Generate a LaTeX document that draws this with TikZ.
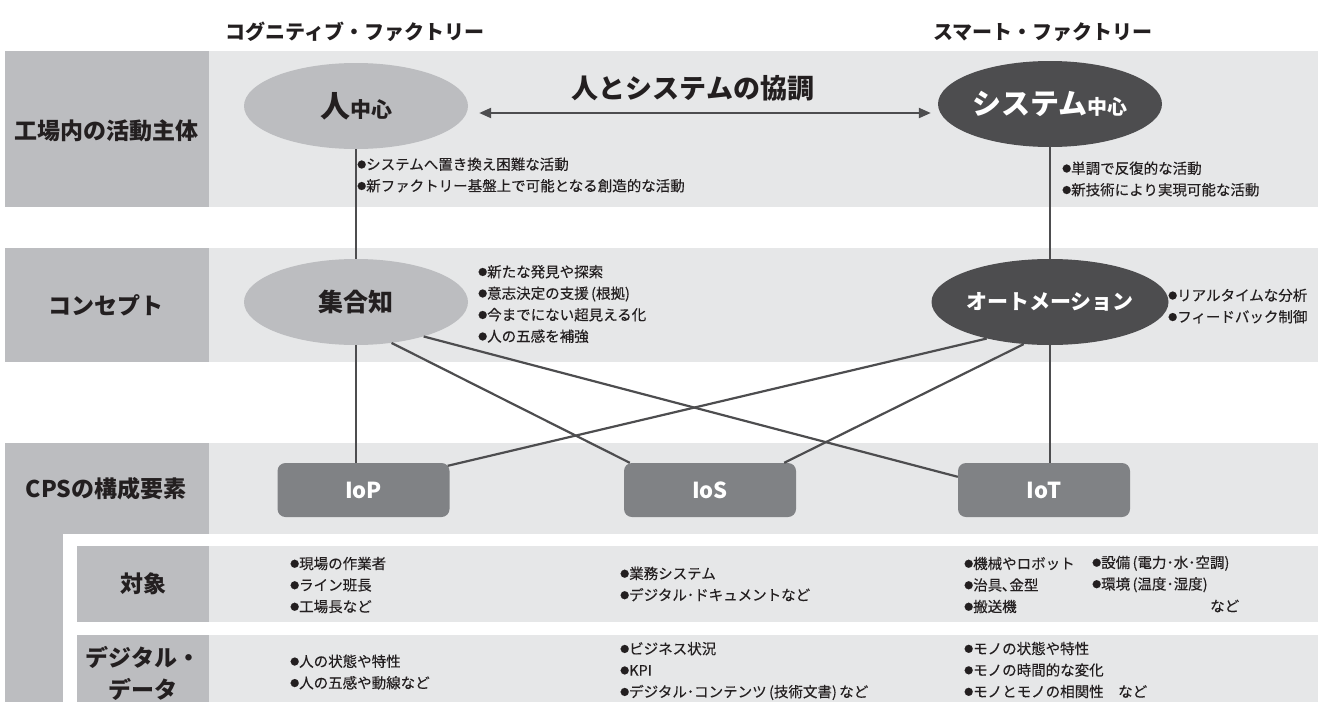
\documentclass[tikz,border=0pt]{standalone}
\usepackage{fontspec}
\setmainfont{Noto Sans CJK JP}
\newfontfamily\bltfont{Noto Sans CJK JP}[FakeBold=0.25]
\usetikzlibrary{arrows.meta,shapes.geometric,calc}
\definecolor{lab}{HTML}{BCBDC0}
\definecolor{bandc}{HTML}{E6E7E8}
\definecolor{dk}{HTML}{4D4D4F}
\definecolor{boxc}{HTML}{808285}
\definecolor{txt}{HTML}{231F20}
\newcommand{\mybul}{\raisebox{1.8pt}{\fontsize{9}{9}\selectfont ●}}
\tikzset{
  hdr/.style={font=\bfseries\fontsize{20}{22}\selectfont, text=txt, inner sep=0},
  lbl/.style={font=\bfseries\fontsize{23}{32}\selectfont, text=txt, align=center, inner sep=0},
  ell/.style={ellipse, minimum width=224pt, minimum height=86pt, inner sep=0},
  ellL/.style={ell, fill=lab, text=txt},
  ellD/.style={ell, fill=dk, text=white},
  cps/.style={rectangle, rounded corners=8pt, fill=boxc, text=white, minimum width=172pt, minimum height=54pt, font=\bfseries\fontsize{22}{22}\selectfont},
  blt/.style={anchor=west, font=\bltfont\fontsize{14.5}{21.5}\selectfont, text=txt, align=left, inner sep=0},
  conn/.style={draw=dk, line width=2.2pt},
}
\begin{document}
\begin{tikzpicture}[x=1pt,y=-1pt]
\useasboundingbox (0,0) rectangle (1318,702);
% bands
\fill[bandc] (5,51) rectangle (1318,207);
\fill[lab] (5,51) rectangle (209,207);
\fill[bandc] (5,248) rectangle (1318,362);
\fill[lab] (5,248) rectangle (209,362);
\fill[bandc] (5,443) rectangle (1318,534);
\fill[lab] (5,443) rectangle (209,534);
\fill[lab] (5,534) rectangle (63,702);
\fill[bandc] (77,546) rectangle (1318,622);
\fill[lab] (77,546) rectangle (209,622);
\fill[bandc] (77,635) rectangle (1318,702);
\fill[lab] (77,635) rectangle (209,702);
% headers
\node[hdr] (hL) at (355,32) {コグニティブ・ファクトリー};
\node[hdr] (hR) at (1043,32) {スマート・ファクトリー};
% labels
\node[lbl] (l1) at (107,131) {工場内の活動主体};
\node[lbl] (l2) at (106,305) {コンセプト};
\node[lbl] (l3) at (106,489) {CPSの構成要素};
\node[lbl] (l4) at (143,584) {対象};
\node[lbl] (l5) at (143,673) {デジタル・\\データ};
% ellipses
\node[ellL] (hito) at (356,106) {{\bfseries\fontsize{30}{30}\selectfont 人}{\bfseries\fontsize{21}{21}\selectfont 中心}};
\node[ellD] (sys) at (1050,104) {{\bfseries\fontsize{29}{30}\selectfont システム}{\bfseries\fontsize{20}{21}\selectfont 中心}};
\node[ellL] (shugo) at (356,302) {\bfseries\fontsize{25}{25}\selectfont 集合知};
\node[ellD] (auto) at (1050,302) {\bfseries\fontsize{21}{21}\selectfont オートメーション};
% cps boxes
\node[cps] (iop) at (363.5,490) {IoP};
\node[cps] (ios) at (710,490) {IoS};
\node[cps] (iot) at (1044,490) {IoT};
% arrow
\node[font=\bfseries\fontsize{27}{27}\selectfont, text=txt] (coop) at (693,88) {人とシステムの協調};
\draw[conn, {Triangle[length=12pt,width=10pt]}-{Triangle[length=12pt,width=10pt]}, shorten <=11pt, shorten >=7pt]
  ($(hito.east)+(0,7)$) -- ($(sys.west)+(0,9)$);
% connectors
\draw[conn] (hito.south) -- (shugo.north);
\draw[conn] (sys.south) -- (auto.north);
\draw[conn] (shugo.south) -- (shugo.south |- iop.north);
\draw[conn] (auto.south) -- (auto.south |- iot.north);
\draw[conn] (shugo.-49.5) -- ([xshift=6pt]ios.north west);
\draw[conn] (shugo.-27.6) -- ([yshift=-14pt]iot.north west);
\draw[conn] (auto.-150) -- ([xshift=-2pt,yshift=-3pt]iop.north east);
\draw[conn] (auto.-122) -- ([xshift=-12pt]ios.north east);
% bullets
\node[blt] (b1) at (357,175) {\mybul システムへ置き換え困難な活動\\\mybul 新ファクトリー基盤上で可能となる創造的な活動};
\node[blt] (b2) at (1062,179) {\mybul 単調で反復的な活動\\\mybul 新技術により実現可能な活動};
\node[blt] (b3) at (478,304) {\mybul 新たな発見や探索\\\mybul 意志決定の支援\,(根拠)\\\mybul 今までにない超見える化\\\mybul 人の五感を補強};
\node[blt] (b4) at (1168,306) {\mybul リアルタイムな分析\\\mybul フィードバック制御};
\node[blt] (t1) at (290,585) {\mybul 現場の作業者\\\mybul ライン班長\\\mybul 工場長など};
\node[blt] (t2) at (620,584) {\mybul 業務システム\\\mybul デジタル･ドキュメントなど};
\node[blt] (t3) at (964,585) {\mybul 機械やロボット\\\mybul 治具､金型\\\mybul 搬送機};
\node[blt] (t4) at (1092,574) {\mybul 設備\,(電力･水･空調)\\\mybul 環境\,(温度･湿度)};
\node[blt] (t5) at (1210,606) {など};
\node[blt] (d1) at (290,672) {\mybul 人の状態や特性\\\mybul 人の五感や動線など};
\node[blt] (d2) at (620,671) {\mybul ビジネス状況\\\mybul KPI\\\mybul デジタル･コンテンツ\,(技術文書)\,など};
\node[blt] (d3) at (964,670) {\mybul モノの状態や特性\\\mybul モノの時間的な変化\\\mybul モノとモノの相関性\quad など};
\end{tikzpicture}
\end{document}
